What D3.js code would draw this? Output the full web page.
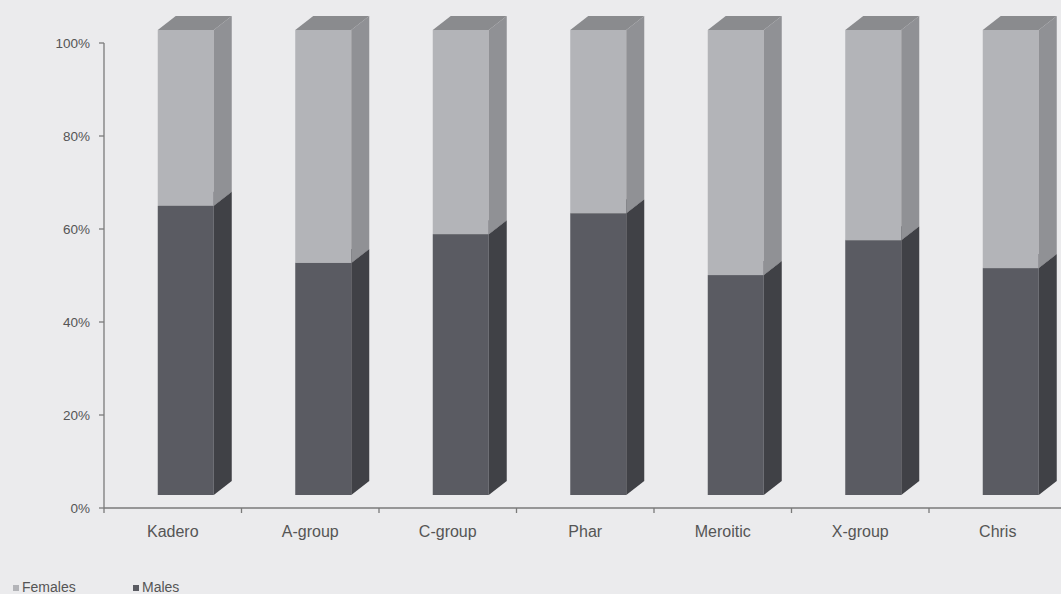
<!DOCTYPE html>
<html>
<head>
<meta charset="utf-8">
<script src="https://cdn.jsdelivr.net/npm/d3@7"></script>
<style>
  html, body { margin: 0; padding: 0; background: #ebebed; }
  svg { display: block; }
  text { font-family: "Liberation Sans", Arial, sans-serif; fill: #555; }
</style>
</head>
<body>
<svg id="chart" width="1061" height="594"></svg>
<script>
// Data
const categories = ["Kadero", "A-group", "C-group", "Phar", "Meroitic", "X-group", "Chris"];
const males   = [62.2, 49.9, 56.1, 60.6, 47.3, 54.8, 48.8];
const females = categories.map((c, i) => 100 - males[i]);
const seriesNames = ["Females", "Males"];
const yTicks = [0, 20, 40, 60, 80, 100];

const svg = d3.select("#chart");
const W = 1061, H = 594;

const x = d3.scaleBand().domain(categories).range([104, 104 + 7 * 137.5]).padding(0);
const y = d3.scaleLinear().domain([0, 100]).range([508, 43]);

// 3D geometry
const faceOff = { dx: 13, dy: -13 };   // front face shift vs. floor
const depth = { dx: 18, dy: -14 };     // depth of bar
const faceW = 56;

const colors = {
  Males:   { front: "#5a5b62", side: "#404146", top: "#4a4b50" },
  Females: { front: "#b3b4b8", side: "#909195", top: "#8a8b8e" }
};

// stack data
const rows = categories.map((c, i) => ({ cat: c, Males: males[i], Females: females[i] }));
const stack = d3.stack().keys(["Males", "Females"])(rows);

// axes
const gAxis = svg.append("g");
gAxis.append("line").attr("x1", 104).attr("x2", 104).attr("y1", y(100)).attr("y2", y(0))
  .attr("stroke", "#7a7a7a").attr("stroke-width", 1.3);
gAxis.append("line").attr("x1", 104).attr("x2", W).attr("y1", y(0)).attr("y2", y(0))
  .attr("stroke", "#7a7a7a").attr("stroke-width", 1.3);

yTicks.forEach(t => {
  gAxis.append("line").attr("x1", 99).attr("x2", 104).attr("y1", y(t)).attr("y2", y(t))
    .attr("stroke", "#7a7a7a").attr("stroke-width", 1.3);
  gAxis.append("text").attr("x", 90).attr("y", y(t)).attr("dy", "0.35em")
    .attr("text-anchor", "end").attr("font-size", 13.5).text(t + "%");
});

categories.forEach((c, i) => {
  const xs = x(c);
  gAxis.append("line").attr("x1", xs).attr("x2", xs).attr("y1", y(0)).attr("y2", y(0) + 5)
    .attr("stroke", "#7a7a7a").attr("stroke-width", 1.3);
  gAxis.append("text").attr("x", xs + x.bandwidth() / 2).attr("y", 537)
    .attr("text-anchor", "middle").attr("font-size", 16).text(c);
});
{
  const xe = x(categories[categories.length - 1]) + x.bandwidth();
  gAxis.append("line").attr("x1", xe).attr("x2", xe).attr("y1", y(0)).attr("y2", y(0) + 5)
    .attr("stroke", "#7a7a7a").attr("stroke-width", 1.3);
}

// bars
const gBars = svg.append("g");
categories.forEach((c, i) => {
  const cx = x(c) + x.bandwidth() / 2;
  const x0 = cx - faceW / 2 + faceOff.dx;
  const x1 = x0 + faceW;
  stack.forEach(layer => {
    const key = layer.key;
    const d = layer[i];
    const yb = y(d[0]) + faceOff.dy;
    const yt = y(d[1]) + faceOff.dy;
    const col = colors[key];
    // front
    gBars.append("rect").attr("x", x0).attr("y", yt).attr("width", faceW).attr("height", yb - yt)
      .attr("fill", col.front);
    // side
    gBars.append("path")
      .attr("d", `M${x1},${yb} L${x1 + depth.dx},${yb + depth.dy} L${x1 + depth.dx},${yt + depth.dy} L${x1},${yt} Z`)
      .attr("fill", col.side);
    // top
    gBars.append("path")
      .attr("d", `M${x0},${yt} L${x0 + depth.dx},${yt + depth.dy} L${x1 + depth.dx},${yt + depth.dy} L${x1},${yt} Z`)
      .attr("fill", col.top);
  });
});

// legend
const gLeg = svg.append("g");
const legItems = [
  { name: seriesNames[0], x: 13, col: colors.Females.front },
  { name: seriesNames[1], x: 133, col: colors.Males.front }
];
legItems.forEach(l => {
  gLeg.append("rect").attr("x", l.x).attr("y", 585).attr("width", 6).attr("height", 6).attr("fill", l.col);
  gLeg.append("text").attr("x", l.x + 9).attr("y", 592).attr("font-size", 14).text(l.name);
});
</script>
</body>
</html>
